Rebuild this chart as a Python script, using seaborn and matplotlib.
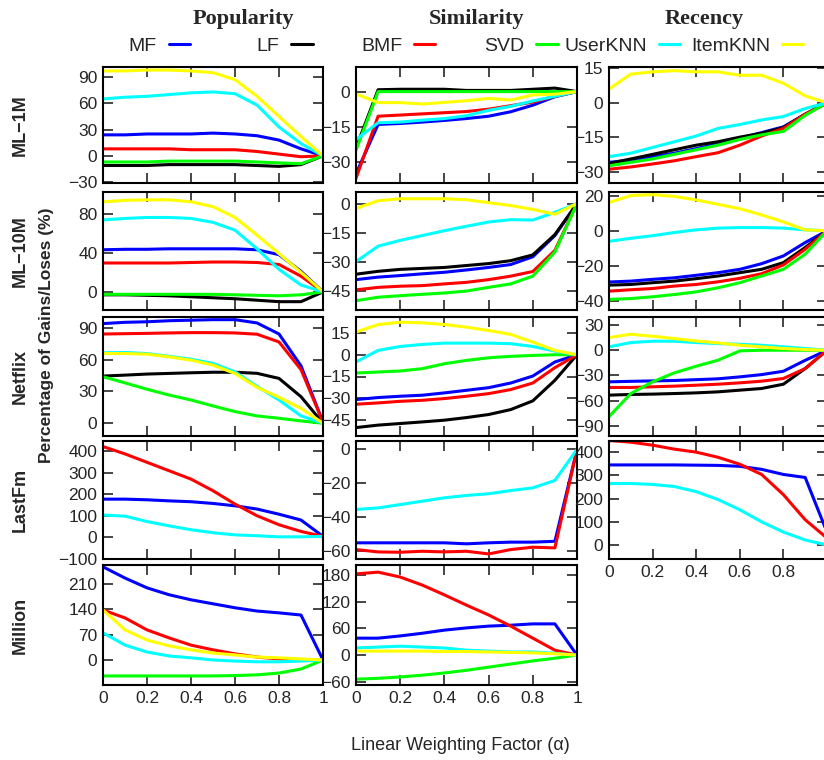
import matplotlib

matplotlib.use("Agg")
import matplotlib.pyplot as plt
import numpy as np
import pandas as pd
import seaborn as sns

# x axis (linear weighting factor)
alpha = [0.0, 0.1, 0.2, 0.3, 0.4, 0.5, 0.6, 0.7, 0.8, 0.9, 1.0]
x_ticks = [0, 0.2, 0.4, 0.6, 0.8, 1.0]
x_tick_labels = ["0", "0.2", "0.4", "0.6", "0.8", "1"]

methods = ["MF", "LF", "BMF", "SVD", "UserKNN", "ItemKNN"]
method_colors = ["#0000ff", "#000000", "#ff0000", "#00ff00", "#00ffff", "#ffff00"]

datasets = ["ML\u22121M", "ML\u221210M", "Netflix", "LastFm", "Million"]
criteria = ["Popularity", "Similarity", "Recency"]

# ML-1M
ml1m_pop = {
    "MF": [24, 24, 25, 25, 25, 26, 25, 23, 18, 8, 0],
    "LF": [-11, -11, -11, -10, -10, -10, -10, -11, -12, -10, 0],
    "BMF": [8, 8, 8, 8, 7, 7, 7, 5, 2, -1, 0],
    "SVD": [-7, -7, -7, -6, -6, -6, -6, -7, -8, -9, 0],
    "UserKNN": [65, 67, 68, 70, 72, 73, 71, 58, 33, 14, 0],
    "ItemKNN": [97, 97, 98, 98, 97, 95, 87, 68, 45, 22, 0],
}
ml1m_sim = {
    "MF": [-35, -14, -13.6, -13, -12.3, -11.5, -10.5, -8.6, -5.8, -2.2, 0],
    "LF": [-24, 0.8, 1, 1, 1, 0.5, 0.5, 0.5, 1, 1.5, 0],
    "BMF": [-37, -10.5, -10, -9.5, -9, -8.5, -7.5, -6, -4.5, -2, 0],
    "SVD": [-25, 0, 0, 0, 0, 0, 0, 0, 0, 0, 0],
    "UserKNN": [-20.5, -13.3, -13, -12.2, -11.5, -10.3, -8, -6.3, -4, -2, 0],
    "ItemKNN": [-1, -4.7, -4.7, -5.3, -4.6, -3.9, -2.9, -3.6, -1.4, -1.1, 0],
}
ml1m_rec = {
    "MF": [-26, -25, -23.5, -22, -20, -18, -15.5, -13, -10.5, -5, 0],
    "LF": [-26.5, -24.5, -22.5, -20.5, -18.5, -17, -15, -13.3, -10.8, -5, 0],
    "BMF": [-29, -28, -26.7, -25.3, -23.5, -21.8, -18.5, -14.5, -11.2, -5, 0],
    "SVD": [-27.5, -26, -24.5, -22.5, -20.5, -18.5, -16, -14, -12.5, -5.5, 0],
    "UserKNN": [-23.5, -22, -19.5, -17, -14.5, -11.2, -9.5, -7.5, -6, -2.5, 0],
    "ItemKNN": [6, 12.5, 13.5, 14, 13.5, 13.5, 12, 12, 8.5, 3, 0],
}

# ML-10M
ml10m_pop = {
    "MF": [43, 43.5, 43.5, 44, 44, 44, 44, 43, 38, 21, 0],
    "LF": [-3, -3, -3.5, -4, -5, -6, -7, -8.5, -10, -10, 0],
    "BMF": [29.5, 29.5, 29.5, 29.5, 30, 30.5, 30.5, 30, 28, 16, 0],
    "SVD": [-2.5, -2.5, -2.5, -2.5, -2.5, -2.5, -3, -3.5, -4, -3, 0],
    "UserKNN": [73.5, 75, 76, 76, 75, 71, 63, 44, 23, 7, 0],
    "ItemKNN": [92, 93.5, 94, 94, 92, 87, 76, 58, 39, 20, 0],
}
ml10m_sim = {
    "MF": [-39.3, -38, -37.2, -36.3, -35.5, -34.3, -33, -31.5, -27.5, -16.5, 0],
    "LF": [-36.5, -35, -34, -33.5, -33, -32, -31, -29.5, -26.5, -16, 0],
    "BMF": [-44.6, -43.3, -42.7, -42.4, -41.5, -40.7, -39.3, -37.5, -35.1, -24.2, 0],
    "SVD": [-50.2, -48.4, -47.6, -46.9, -46.2, -45.2, -43.3, -41.5, -37.5, -25, 0],
    "UserKNN": [-30, -22, -19, -16.5, -14, -11.7, -9.5, -8.3, -8.5, -4.5, 0],
    "ItemKNN": [-2.5, 1.5, 2.5, 2.5, 2.5, 2, 0.5, -1, -3, -5.5, 0],
}
ml10m_rec = {
    "MF": [-29.1, -28.6, -27.6, -26.7, -25.3, -23.8, -21.9, -18.7, -14.3, -6.7, 0],
    "LF": [-30.9, -30.5, -29.5, -28.6, -27.2, -25.7, -23.8, -21.9, -18.1, -9.5, 0],
    "BMF": [-34.3, -33.5, -32.8, -31.4, -30.5, -29, -27, -24.4, -19.4, -10.5, 0],
    "SVD": [-39, -38.5, -37.5, -36.2, -34.7, -32.4, -29.5, -25.7, -21.9, -13.3, 0],
    "UserKNN": [-6, -4.3, -2.8, -1, 0.5, 1.5, 1.8, 1.8, 1.5, 0.5, 0],
    "ItemKNN": [16, 20, 20.5, 19.5, 17.5, 15, 12.5, 9, 5, 0.5, 0],
}

# Netflix
netflix_pop = {
    "MF": [93.8, 95, 95.5, 96.5, 97, 97.5, 97.5, 94.4, 84, 54, 1],
    "LF": [44.4, 45.3, 46.3, 46.9, 47.5, 48, 48, 47, 42.2, 25, 0],
    "BMF": [84, 84.3, 84.6, 85, 85.3, 85.3, 85, 83.8, 76.5, 50.5, 1],
    "SVD": [43.8, 38, 32, 26.6, 21.9, 16.3, 11, 6.9, 4.7, 2.2, 0],
    "UserKNN": [66.3, 66.6, 65.6, 63, 60.3, 56.3, 48.4, 34.7, 21.9, 6.9, 0],
    "ItemKNN": [65.6, 65.6, 65, 62.5, 59.4, 54.7, 46.9, 33.8, 24.4, 14, 0],
}
netflix_sim = {
    "MF": [-30.9, -29.5, -28.6, -27.9, -26.3, -24.5, -22.7, -19.5, -14.7, -5, 0],
    "LF": [-50.2, -48.5, -47.4, -46.3, -45.1, -43.3, -41.2, -37.8, -31.8, -17.6, 0],
    "BMF": [-34.1, -33.2, -32.1, -31.4, -30.2, -28.6, -26.8, -24, -19.5, -8.9, 0],
    "SVD": [-12.6, -11.9, -11.2, -9.6, -6.2, -3.9, -2.1, -1.1, -0.5, 0, 0],
    "UserKNN": [-5, 3, 5.7, 7.1, 8, 8, 8, 7.6, 5.7, 2.5, 0],
    "ItemKNN": [15.6, 20.8, 22.4, 22, 20.8, 19, 16.7, 14, 8.7, 3, 0],
}
netflix_rec = {
    "MF": [-37.6, -37, -36.5, -36, -35, -34, -31.7, -29, -25, -12, 0],
    "LF": [-53.4, -52.6, -52.2, -51.5, -50.7, -49.5, -47.5, -45.5, -40.4, -21.8, 0],
    "BMF": [-44.3, -44.3, -43.5, -42.7, -41.6, -40.4, -38.8, -36.8, -33.6, -21.8, 0],
    "SVD": [-79, -51.5, -37.6, -26.9, -19, -11.9, -0.8, 0, 0, 0, 0],
    "UserKNN": [4, 9.1, 10.7, 10.7, 9.1, 7.9, 7.1, 5.9, 4, 2, 0],
    "ItemKNN": [15, 19, 16.6, 13.9, 11, 8.7, 5.9, 4, 2, 0.8, 0],
}

# LastFm
lastfm_pop = {
    "MF": [178, 178, 175, 170, 166, 158, 147, 132, 108, 81, 5],
    "BMF": [422, 388, 349, 310, 271, 217, 155, 101, 59, 28, 5],
    "UserKNN": [104, 99, 74, 54, 36, 22, 12, 8, 3, 3, 5],
}
lastfm_sim = {
    "MF": [-55.4, -55.4, -55.4, -55.4, -55.4, -56, -55.4, -55, -55, -54.5, 0],
    "BMF": [-59.4, -60.8, -61, -60.4, -60.8, -60.4, -62, -59.4, -58, -58.4, 0],
    "UserKNN": [-35.6, -34.7, -32.7, -30.7, -28.7, -27.3, -26.3, -24.4, -22.8, -18.4, 0],
}
lastfm_rec = {
    "MF": [345, 345, 345, 345, 344, 343, 339, 326, 304, 291, 55],
    "BMF": [450, 443, 430, 413, 400, 378, 348, 304, 217, 109, 30],
    "UserKNN": [265, 265, 261, 252, 230, 196, 152, 100, 56, 22, 0],
}

# Million
million_pop = {
    "MF": [257, 226, 199, 180, 166, 155, 144, 135, 130, 124, 0],
    "BMF": [138, 116, 83, 61, 41, 28, 17, 8, 3, 0, 0],
    "SVD": [-44, -44, -44, -44, -44, -44, -43, -41, -36, -25, 0],
    "UserKNN": [75, 41, 22, 11, 6, 0, -3, -5, -5, -3, 0],
    "ItemKNN": [138, 83, 55, 39, 28, 19, 14, 8, 6, 3, 0],
}
million_sim = {
    "MF": [38, 38, 43, 49, 56, 61, 65, 67, 70, 70, 0],
    "BMF": [182, 186, 175, 157, 135, 112, 90, 65, 38, 11, 0],
    "SVD": [-54, -52, -49, -45, -40, -34, -27, -20, -13, -7, 0],
    "UserKNN": [16, 18, 20, 18, 16, 11, 9, 7, 7, 4, 0],
    "ItemKNN": [9, 9, 9, 9, 8, 8, 7, 6, 5, 3, 0],
}

panel_data = [
    [ml1m_pop, ml1m_sim, ml1m_rec],
    [ml10m_pop, ml10m_sim, ml10m_rec],
    [netflix_pop, netflix_sim, netflix_rec],
    [lastfm_pop, lastfm_sim, lastfm_rec],
    [million_pop, million_sim, None],
]

# y axis limits and ticks per panel
panel_ylim = [
    [(-31, 101.5), (-39, 10.5), (-35, 15.6)],
    [(-18.5, 102), (-55, 6), (-45, 22)],
    [(-12, 100), (-56, 26), (-102, 39.5)],
    [(-100, 448), (-65, 5), (-60, 448)],
    [(-69, 262), (-67, 202), None],
]
panel_yticks = [
    [[-30, 0, 30, 60, 90], [-30, -15, 0], [-30, -15, 0, 15]],
    [[0, 40, 80], [-45, -30, -15, 0], [-40, -20, 0, 20]],
    [[0, 30, 60, 90], [-45, -30, -15, 0, 15], [-90, -60, -30, 0, 30]],
    [[-100, 0, 100, 200, 300, 400], [-60, -40, -20, 0], [0, 100, 200, 300, 400]],
    [[0, 70, 140, 210], [-60, 0, 60, 120, 180], None],
]

sns.set_style("ticks")
plt.rcParams["font.family"] = ["Liberation Sans", "DejaVu Sans"]

W, H = 824, 760
fig = plt.figure(figsize=(W / 100, H / 100), dpi=100)

# panel boxes in pixels (third column runs past the right edge, as in the original)
col_px = [(103, 323), (356, 577), (609, 827)]
row_px = [(67, 183), (192, 310), (317, 436), (441, 559), (565, 685)]


def px_box(left, right, top, bottom):
    return [left / W, 1 - bottom / H, (right - left) / W, (bottom - top) / H]


legend_handles = {}
color_of = dict(zip(methods, method_colors))

for r, row in enumerate(panel_data):
    for c, series in enumerate(row):
        if series is None:
            continue
        ax = fig.add_axes(px_box(col_px[c][0], col_px[c][1], row_px[r][0], row_px[r][1]))
        for name in methods:
            if name not in series:
                continue
            df = pd.DataFrame({"alpha": alpha, "value": series[name]})
            sns.lineplot(data=df, x="alpha", y="value", ax=ax, color=color_of[name],
                         lw=2.2, label=name, legend=False)
            if name not in legend_handles:
                legend_handles[name] = ax.lines[-1]
        ax.set_xlim(0, 1)
        ax.set_ylim(*panel_ylim[r][c])
        ax.set_yticks(panel_yticks[r][c])
        ax.set_xticks(x_ticks)
        if r == 4:
            ax.set_xticklabels(x_tick_labels)
        elif c == 2 and r == 3:
            # the "1" falls off the page edge in the original
            ax.set_xticklabels(x_tick_labels[:-1] + [""])
        else:
            ax.set_xticklabels([])
        ax.set_xlabel("")
        ax.set_ylabel("")
        ax.tick_params(direction="in", length=7, width=1.2, top=True, right=True,
                       labelsize=12.5, pad=4)
        for sp in ax.spines.values():
            sp.set_linewidth(1.5)
            sp.set_color("black")

# column titles
title_x = [243, 477, 704]
for c, name in enumerate(criteria):
    fig.text(title_x[c] / W, 1 - 19 / H, name, ha="center", va="center",
             fontsize=16, fontweight="bold", family=["Liberation Serif", "DejaVu Serif"])

# row labels
for r, name in enumerate(datasets):
    yc = (row_px[r][0] + row_px[r][1]) / 2
    fig.text(20 / W, 1 - yc / H, name, rotation=90, ha="center", va="center",
             fontsize=13, fontweight="bold")

fig.text(47 / W, 1 - 335 / H, "Percentage of Gains/Loses (%)", rotation=90,
         ha="center", va="center", fontsize=12.5, fontweight="bold")
fig.text(460 / W, 1 - 745 / H, "Linear Weighting Factor (\u03b1)", ha="center",
         va="center", fontsize=13)

# key, one entry per column, text first with the line sample after it
for i, name in enumerate(methods):
    x_right = 190 + 122.6 * i
    fig.legend(handles=[legend_handles[name]], labels=[name], loc="center right",
               bbox_to_anchor=(x_right / W, 1 - 46 / H), markerfirst=False,
               frameon=False, handlelength=1.1, handletextpad=0.6, fontsize=14,
               borderpad=0, borderaxespad=0)

fig.savefig("out.png", dpi=100)
